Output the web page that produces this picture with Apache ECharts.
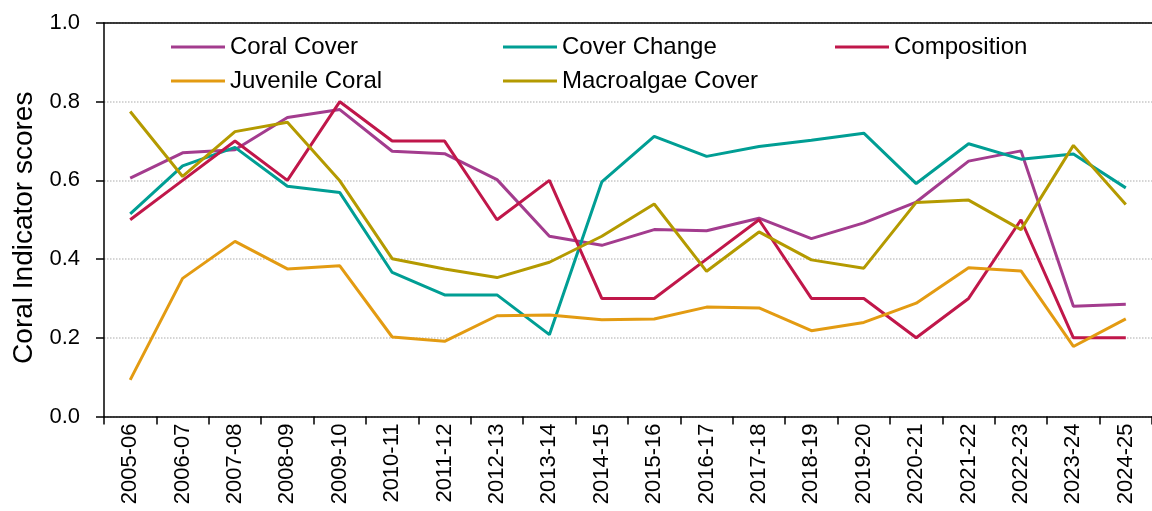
<!DOCTYPE html>
<html>
<head>
<meta charset="utf-8">
<script src="https://cdn.jsdelivr.net/npm/echarts@6/dist/echarts.min.js"></script>
<style>
  html, body { margin: 0; padding: 0; background: #fff; }
  #chart { width: 1152px; height: 511px; }
</style>
</head>
<body>
<div id="chart"></div>
<script>
// seasons along the x axis
const seasons = ['2005-06', '2006-07', '2007-08', '2008-09', '2009-10', '2010-11', '2011-12',
  '2012-13', '2013-14', '2014-15', '2015-16', '2016-17', '2017-18', '2018-19', '2019-20',
  '2020-21', '2021-22', '2022-23', '2023-24', '2024-25']

const coralCover = [0.606, 0.670, 0.678, 0.760, 0.780, 0.674, 0.668, 0.602, 0.458, 0.435,
  0.475, 0.472, 0.504, 0.452, 0.492, 0.545, 0.649, 0.675, 0.280, 0.285]
const coverChange = [0.515, 0.637, 0.684, 0.585, 0.569, 0.366, 0.309, 0.309, 0.208, 0.596,
  0.712, 0.661, 0.686, 0.702, 0.720, 0.592, 0.693, 0.654, 0.667, 0.581]
const composition = [0.50, 0.60, 0.70, 0.60, 0.80, 0.70, 0.70, 0.50, 0.60, 0.30,
  0.30, 0.40, 0.50, 0.30, 0.30, 0.20, 0.30, 0.50, 0.20, 0.20]
const juvenileCoral = [0.093, 0.351, 0.445, 0.375, 0.383, 0.202, 0.191, 0.256, 0.258, 0.246,
  0.248, 0.278, 0.276, 0.218, 0.239, 0.288, 0.378, 0.370, 0.178, 0.248]
const macroalgae = [0.775, 0.610, 0.724, 0.748, 0.599, 0.401, 0.375, 0.353, 0.392, 0.458,
  0.540, 0.369, 0.469, 0.398, 0.377, 0.544, 0.550, 0.475, 0.689, 0.539]

const yTicks = { min: 0, max: 1, interval: 0.2 }

const font = 'Liberation Sans, Arial, sans-serif'

function line(name, data, color) {
  return {
    name, type: 'line', data, symbol: 'none',
    lineStyle: { width: 3, color }, itemStyle: { color },
    animation: false
  }
}

// one legend block per entry so they sit where the original places them
function legendAt(name, left, top) {
  return {
    data: [name], left, top, orient: 'horizontal',
    icon: 'rect', itemWidth: 54, itemHeight: 3, itemGap: 0,
    textStyle: { fontFamily: font, fontSize: 24, color: '#000' },
    padding: 0, selectedMode: false
  }
}

const chart = echarts.init(document.getElementById('chart'))
chart.setOption({
  animation: false,
  legend: [
    legendAt('Coral Cover', 171, 35),
    legendAt('Cover Change', 503, 35),
    legendAt('Composition', 835, 35),
    legendAt('Juvenile Coral', 171, 69),
    legendAt('Macroalgae Cover', 503, 69)
  ],
  grid: { left: 104, top: 23, width: 1054, height: 393.5 },
  xAxis: [{
    type: 'category', data: seasons, boundaryGap: true,
    axisLine: { lineStyle: { color: '#000', width: 1.5 } },
    axisTick: { show: true, length: 8, lineStyle: { color: '#000', width: 1.5 } },
    axisLabel: { rotate: 90, margin: 7, fontFamily: font, fontSize: 22, color: '#000', interval: 0 },
    splitLine: { show: false }
  }, {
    // top frame line only
    type: 'category', data: seasons, position: 'top',
    axisLine: { show: true, lineStyle: { color: '#000', width: 1.5 } },
    axisTick: { show: false }, axisLabel: { show: false }, splitLine: { show: false }
  }],
  yAxis: {
    type: 'value', min: yTicks.min, max: yTicks.max, interval: yTicks.interval,
    name: 'Coral Indicator scores', nameLocation: 'middle', nameGap: 66,
    nameTextStyle: { fontFamily: font, fontSize: 28, color: '#000', padding: [0, 16, 0, 0] },
    axisLine: { show: true, lineStyle: { color: '#000', width: 1.5 } },
    axisTick: { show: true, length: 8, lineStyle: { color: '#000', width: 1.5 } },
    axisLabel: { margin: 24, fontFamily: font, fontSize: 22, color: '#000',
      formatter: v => v.toFixed(1) },
    splitLine: { show: true, lineStyle: { color: '#c8c8c8', type: 'dotted', width: 1.5 } }
  },
  series: [
    line('Coral Cover', coralCover, '#A33C8E'),
    line('Cover Change', coverChange, '#009E94'),
    line('Composition', composition, '#C0174A'),
    line('Juvenile Coral', juvenileCoral, '#E39B12'),
    line('Macroalgae Cover', macroalgae, '#B49A00')
  ]
})
</script>
</body>
</html>
